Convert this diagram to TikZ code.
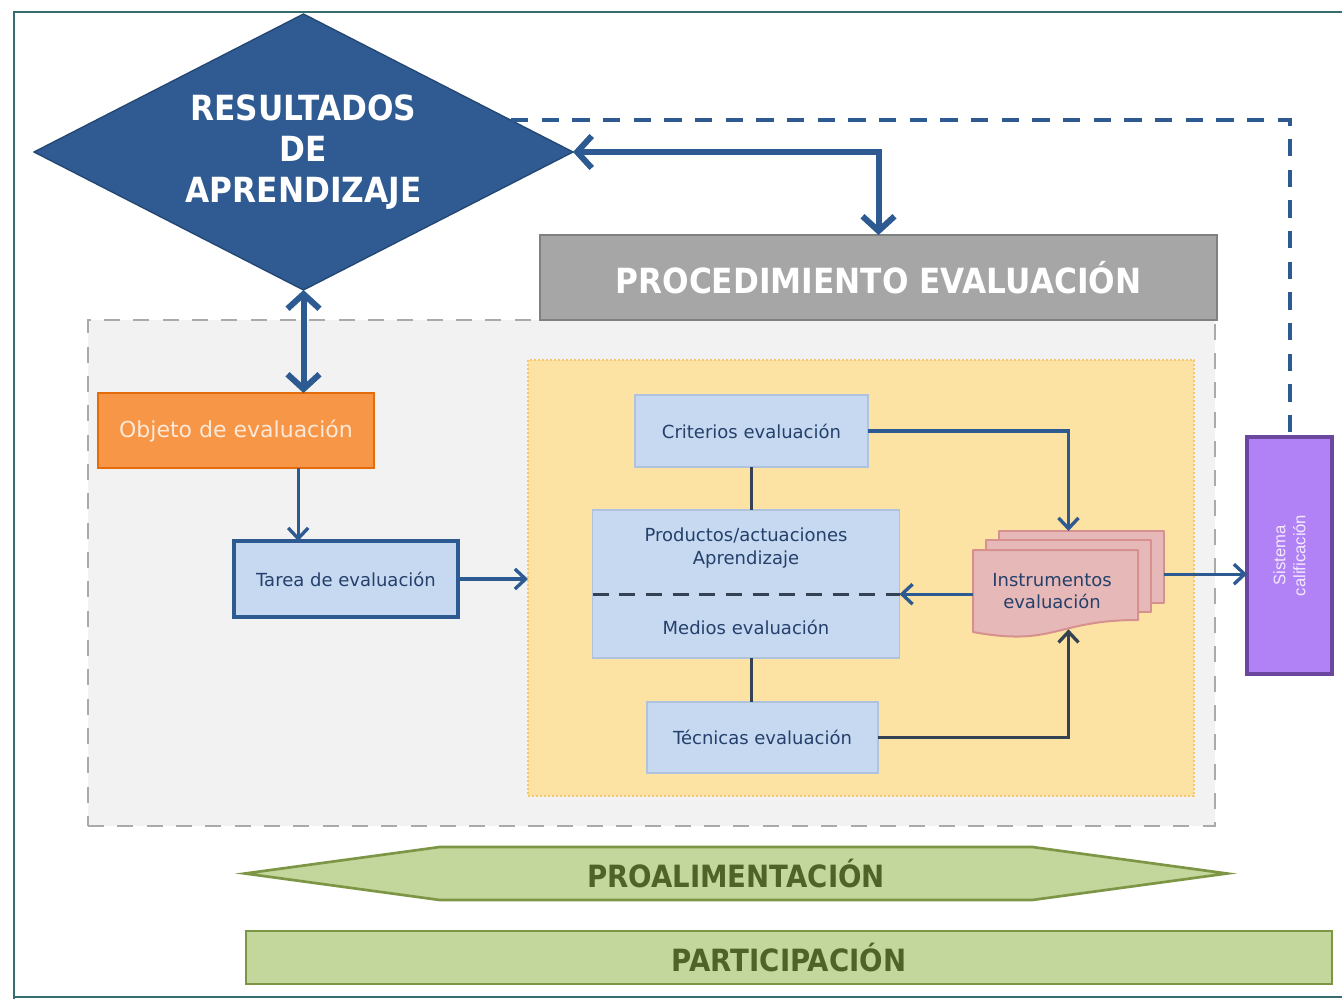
\documentclass[tikz,border=0pt]{standalone}
\usepackage{fontspec}
\setmainfont{DejaVu Sans}
\newfontfamily\headfont[FakeStretch=0.9]{DejaVu Sans}
\newfontfamily\sistfont{Liberation Sans}
\usetikzlibrary{arrows.meta,shapes.geometric,shapes.symbols,calc}
\newcommand\pxu{0.75pt}
\definecolor{frameC}{RGB}{55,108,112}
\definecolor{resC}{RGB}{47,91,146}
\definecolor{resB}{RGB}{35,70,115}
\definecolor{arrC}{RGB}{44,90,145}
\definecolor{lineC}{RGB}{52,66,84}
\definecolor{procC}{RGB}{166,166,166}
\definecolor{procB}{RGB}{128,128,128}
\definecolor{grayF}{RGB}{242,242,242}
\definecolor{grayB}{RGB}{170,170,170}
\definecolor{yelF}{RGB}{253,227,163}
\definecolor{yelB}{RGB}{245,200,110}
\definecolor{blueF}{RGB}{198,217,241}
\definecolor{blueB}{RGB}{175,195,222}
\definecolor{txtB}{RGB}{36,64,107}
\definecolor{orF}{RGB}{247,150,70}
\definecolor{orB}{RGB}{228,108,10}
\definecolor{orT}{RGB}{253,233,217}
\definecolor{pkF}{RGB}{230,184,183}
\definecolor{pkB}{RGB}{214,145,143}
\definecolor{puF}{RGB}{177,130,246}
\definecolor{puB}{RGB}{106,72,160}
\definecolor{puT}{RGB}{242,234,255}
\definecolor{grF}{RGB}{195,214,155}
\definecolor{grB}{RGB}{125,150,70}
\definecolor{grT}{RGB}{79,98,40}
\begin{document}
\begin{tikzpicture}[x=0.75pt,y=-0.75pt,
  box/.style={inner sep=0pt,outer sep=0pt,align=center},
  region/.style={box},
  bluebox/.style={box,fill=blueF,draw=blueB,line width=0.8pt,text=txtB,font=\fontsize{13.5}{17}\selectfont},
  lbl/.style={box,text=txtB,font=\fontsize{13.5}{17}\selectfont},
  greenbox/.style={box,fill=grF,draw=grB,line width=2pt,text=grT,font=\headfont\bfseries\fontsize{23}{27}\selectfont},
  arr/.style={draw=arrC,line width=2.5pt,-{Straight Barb[length=8pt,width=15pt]}},
  arrdark/.style={draw=lineC,line width=2.5pt,-{Straight Barb[length=8pt,width=15pt]}},
  bigarr/.style={draw=arrC,line width=4.5pt,{Straight Barb[length=11pt,width=24pt]}-{Straight Barb[length=11pt,width=24pt]}},
  plain/.style={draw=lineC,line width=2.5pt},
  docst/.style={fill=pkF,draw=pkB,line width=1.5pt,line join=round}
]
\useasboundingbox (0,0) rectangle (1342,999);
\fill[white] (0,0) rectangle (1342,999);

% frame
\draw[frameC,line width=2.2pt] (14,999) -- (14,12) -- (1342,12);
\draw[frameC,line width=2.2pt] (14,997) -- (1342,997);

% regions
\node[region,fill=grayF,draw=grayB,line width=1.9pt,dash pattern=on 12pt off 10pt,
  minimum width=1127*\pxu,minimum height=506*\pxu] (grayreg) at (651.5,573) {};
\node[region,fill=yelF,draw=yelB,line width=2pt,dash pattern=on 1.5pt off 1.5pt,
  minimum width=666*\pxu,minimum height=436*\pxu] (yel) at (861,578) {};

% diamond
\node[box,shape=diamond,aspect=1.95,fill=resC,draw=resB,line width=1pt,
  minimum width=539*\pxu,minimum height=276*\pxu,text=white,
  font=\headfont\bfseries\fontsize{26}{30.75}\selectfont] (res) at (303.5,152)
  {RESULTADOS\\DE\\APRENDIZAJE};

% procedimiento
\node[box,fill=procC,draw=procB,line width=1.5pt,minimum width=677*\pxu,minimum height=85*\pxu,
  text=white,font=\headfont\bfseries\fontsize{26}{30}\selectfont] (proc) at (878.5,277.5)
  {PROCEDIMIENTO EVALUACIÓN};

% objeto
\node[box,fill=orF,draw=orB,line width=2pt,minimum width=276*\pxu,minimum height=75*\pxu,
  text=orT,font=\fontsize{16.5}{20}\selectfont] (obj) at (236,430.5) {Objeto de evaluación};

% tarea
\node[bluebox,draw=arrC,line width=2.4pt,minimum width=224*\pxu,minimum height=76*\pxu] (tarea) at (346,579) {Tarea de evaluación};

% inner boxes
\node[bluebox,minimum width=233*\pxu,minimum height=72*\pxu] (crit) at (751.5,431) {Criterios evaluación};
\node[bluebox,minimum width=307*\pxu,minimum height=148*\pxu] (prod) at (746,584) {};
\node[lbl] (prodtxt) at (746,548) {Productos/actuaciones\\Aprendizaje};
\node[lbl] (medios) at (746,627) {Medios evaluación};
\node[bluebox,minimum width=231*\pxu,minimum height=71*\pxu] (tec) at (762.5,737.5) {Técnicas evaluación};

% instrumentos (stack of documents)
\node[box,minimum width=191*\pxu,minimum height=105*\pxu] (instr) at (1068.5,583.5) {};
\draw[docst] ($(instr.north west)+(26,0)$) rectangle ($(instr.north west)+(191,72)$);
\draw[docst] ($(instr.north west)+(13,9)$) rectangle ($(instr.north west)+(178,81)$);
\draw[docst] ($(instr.north west)+(0,19)$) -- ($(instr.north west)+(165,19)$) -- ($(instr.north west)+(165,89)$)
  .. controls ($(instr.north west)+(82,89)$) and ($(instr.north west)+(82,116)$) .. ($(instr.north west)+(0,101)$) -- cycle;
\node[lbl,font=\fontsize{13.5}{16.5}\selectfont] (instrtxt) at (1052,591) {Instrumentos\\evaluación};

% sistema
\node[box,fill=puF,draw=puB,line width=2.4pt,minimum width=85*\pxu,minimum height=237*\pxu] (sist) at (1289.5,555.5) {};
\node[box,rotate=90,text=puT,font=\sistfont\fontsize{12.5}{15}\selectfont] (sisttxt) at (sist.center) {Sistema\\calificación};

% green bars
\node[greenbox,shape=signal,signal to=east and west,signal pointer angle=15.5,
  minimum width=982*\pxu,minimum height=53*\pxu] (proal) at (736,873.5) {PROALIMENTACIÓN};
\node[greenbox,minimum width=1086*\pxu,minimum height=53*\pxu] (part) at (789,957.5) {PARTICIPACIÓN};

% connectors
\coordinate (dst) at ($(res.north)!0.77!(res.east)$);
\draw[arrC,line width=3pt,dash pattern=on 13pt off 10pt] (dst) -- (dst -| sist.north) -- (sist.north);
\draw[bigarr] (res.east) -| (proc.north);
\draw[bigarr] (res.south) -- (res.south |- obj.north);
\draw[arr] ([xshift=-4pt]res.south |- obj.south) -- ([xshift=-4pt]res.south |- tarea.north);
\draw[arr] (tarea.east) -- (tarea.east -| yel.west);
\draw[plain] (crit.south) -- (crit.south |- prod.north);
\draw[plain] (crit.south |- prod.south) -- (crit.south |- tec.north);
\draw[arr] (crit.east) -| (instr.north);
\draw[arrdark] (tec.east) -| ([yshift=5pt]instr.south);
\draw[lineC,line width=2.2pt,dash pattern=on 12pt off 8pt] ([yshift=-8pt]instr.west -| prod.west) -- ([yshift=-8pt]instr.west -| prod.east);
\draw[arr] ([yshift=-8pt]instr.west) -- ([yshift=-8pt]instr.west -| prod.east);
\draw[arr] ([yshift=7pt]instr.east) -- ([yshift=7pt]instr.east -| sist.west);
\end{tikzpicture}
\end{document}
